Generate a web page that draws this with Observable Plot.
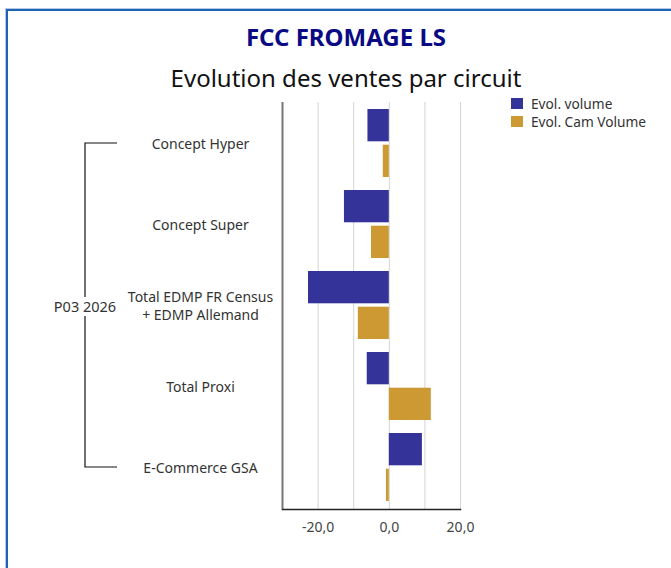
<!DOCTYPE html>
<html>
<head>
<meta charset="utf-8">
<script src="https://cdn.jsdelivr.net/npm/d3@7"></script>
<script src="https://cdn.jsdelivr.net/npm/@observablehq/plot@0.6"></script>
<style>
  html, body { margin: 0; padding: 0; background: #fff; }
  body { width: 671px; height: 568px; overflow: hidden; position: relative; font-family: "Noto Sans", sans-serif; }
  #frame { position: absolute; left: 6px; top: 9px; width: 680px; height: 600px; border: 2px solid #1f63b5; box-shadow: 0 0 0 1px #b3cbe9; box-sizing: border-box; }
  #title { position: absolute; left: 0; width: 692px; top: 25px; text-align: center; font-size: 24px; line-height: 24px; font-weight: 700; color: #0a0a84; }
  #subtitle { position: absolute; left: 0; width: 692px; top: 66px; text-align: center; font-size: 24px; line-height: 24px; color: #111; }
  #legend { position: absolute; left: 511px; top: 94px; font-size: 13.7px; color: #333; }
  #legend .row { display: flex; align-items: center; height: 18.3px; }
  #legend .sw { width: 12px; height: 11px; margin-right: 8px; }
  #chart { position: absolute; left: 0; top: 0; }
</style>
</head>
<body>
<div id="frame"></div>
<div id="title">FCC FROMAGE LS</div>
<div id="subtitle">Evolution des ventes par circuit</div>
<div id="legend"></div>
<div id="chart"></div>
<script>
// ---- data ----
const categories = [
  "Concept Hyper",
  "Concept Super",
  "Total EDMP FR Census\n+ EDMP Allemand",
  "Total Proxi",
  "E-Commerce GSA"
];
const evolVolume = [-6.0, -12.6, -22.7, -6.2, 9.3];
const evolCamVolume = [-1.7, -5.0, -8.7, 11.8, -0.8];
const seriesNames = ["Evol. volume", "Evol. Cam Volume"];
const seriesColors = ["#333399", "#cc9933"];
const xTickValues = [-20, 0, 20];
const gridValues = [-20, -10, 0, 10, 20];
const xDomain = [-30, 20];
const groupLabel = "P03 2026";

const rows = categories.map((c, i) => ({category: c, volume: evolVolume[i], cam: evolCamVolume[i]}));
const fmt = d => d.toFixed(1).replace(".", ",");

// legend
const legend = document.getElementById("legend");
seriesNames.forEach((s, i) => {
  const r = document.createElement("div");
  r.className = "row";
  r.innerHTML = `<div class="sw" style="background:${seriesColors[i]}"></div><span>${s}</span>`;
  legend.appendChild(r);
});

const bandInset = 35.7;

const plot = Plot.plot({
  width: 671,
  height: 568,
  marginTop: 102,
  marginBottom: 59,
  marginLeft: 282,
  marginRight: 211,
  style: {background: "transparent", fontFamily: "'Noto Sans', sans-serif", fontSize: "13px", color: "#333"},
  x: {domain: xDomain, label: null},
  y: {domain: categories, paddingInner: 0.16, paddingOuter: 0.08, label: null},
  marks: [
    Plot.gridX(gridValues, {stroke: "#d4d4d4", strokeOpacity: 1, strokeWidth: 1}),
    Plot.barX(rows, {x: "volume", y: "category", fill: seriesColors[0], insetBottom: bandInset}),
    Plot.barX(rows, {x: "cam", y: "category", fill: seriesColors[1], insetTop: bandInset}),
    Plot.ruleX([xDomain[0]], {stroke: "#777", strokeWidth: 2}),
    Plot.frame({anchor: "bottom", stroke: "#222", strokeWidth: 1.5}),
    Plot.axisX(xTickValues, {tickSize: 0, tickPadding: 13, tickFormat: fmt, fontSize: 14, fill: "#444", label: null}),
    Plot.axisY({tickSize: 0, tickPadding: 0, textAnchor: "middle", dx: -82, fontSize: 14, fill: "#333", lineHeight: 1.3, label: null})
  ]
});
document.getElementById("chart").appendChild(plot);

// group bracket using the plot's y scale
const ys = plot.scale("y");
const yFn = ys.apply ? ys.apply : d3.scaleBand().domain(ys.domain).range(ys.range).paddingInner(0.16).paddingOuter(0.08);
const bw = ys.bandwidth;
const yTop = yFn(categories[0]) + bw / 2;
const yBot = yFn(categories[categories.length - 1]) + bw / 2;
const svg = d3.select(plot);
const g = svg.append("g");
g.append("path")
  .attr("d", `M117,${yTop}H85V${yBot}H117`)
  .attr("fill", "none").attr("stroke", "#111").attr("stroke-width", 1.2);
const yMid = (yTop + yBot) / 2 + 1.5;
g.append("rect").attr("x", 50).attr("y", yMid - 9.5).attr("width", 70).attr("height", 19).attr("fill", "#fff");
g.append("text").attr("x", 85).attr("y", yMid).attr("text-anchor", "middle").attr("dy", "0.35em")
  .attr("font-size", 14.5).attr("fill", "#333").text(groupLabel);
</script>
</body>
</html>
